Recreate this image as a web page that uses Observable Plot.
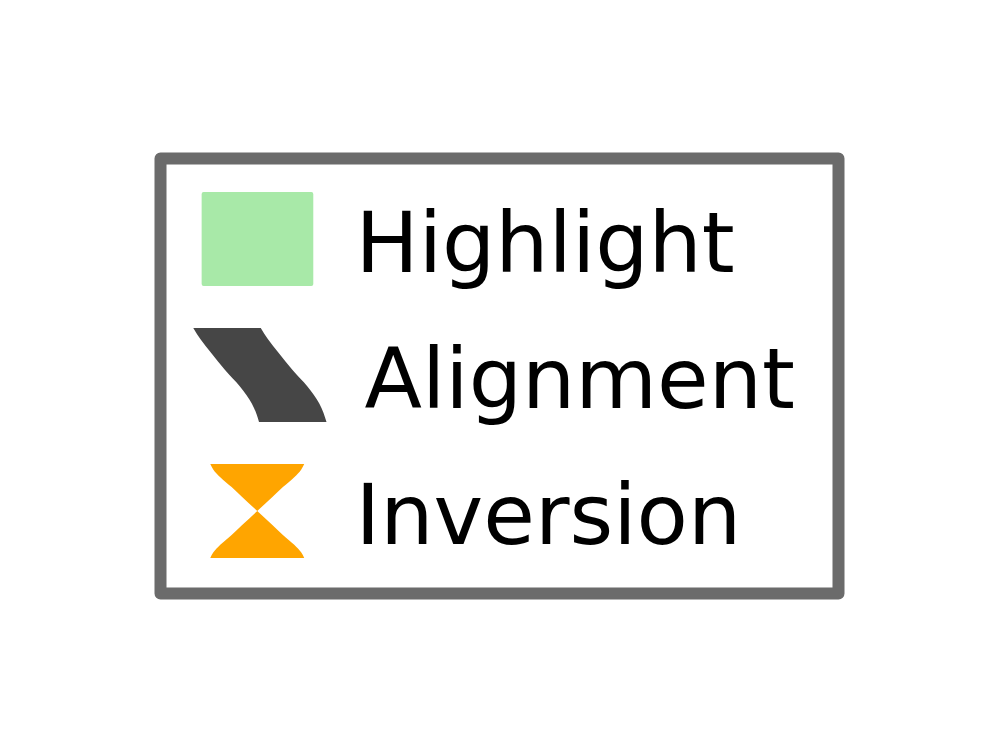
<!DOCTYPE html>
<html>
<head>
<meta charset="utf-8">
<script src="https://cdn.jsdelivr.net/npm/d3@7"></script>
<script src="https://cdn.jsdelivr.net/npm/@observablehq/plot@0.6"></script>
<style>
  body { margin: 0; background: white; }
</style>
</head>
<body>
<div id="chart"></div>
<script>
// legend entries
const items = ["Highlight", "Alignment", "Inversion"];
const colors = ["#a8e9a8", "#464646", "#ffa500"];

// layout in pixels
const W = 997, Ht = 752;
const box = {left: 160, right: 838, top: 158, bottom: 593};
const glyphX0 = 193, glyphW = 135;   // glyph column: x unit = 135px
const row0 = 239, rowStep = 136;     // y unit = one legend row
const half = 47 / rowStep;           // glyph half height in row units

// glyph shapes, in glyph units (u across, v from -1 top to 1 bottom)
const alignS = [[-1, 0], [-0.76, 0.11], [-0.474, 0.27], [-0.114, 0.48], [0.244, 0.71], [0.604, 0.89], [1, 1]];
const hourglass = [[0, 0], [0.3, 0.112], [0.51, 0.19], [0.72, 0.274], [0.88, 0.325], [1, 0.348]];

const rowOf = name => items.indexOf(name);

const highlightRect = [{name: "Highlight", x1: 0.064, x2: 0.891, y1: rowOf("Highlight") - half, y2: rowOf("Highlight") + half}];

const alignPts = alignS.map(([v, s]) => ({
  name: "Alignment",
  y: rowOf("Alignment") + v * half,
  x1: 0.002 + s * 0.487,
  x2: 0.502 + s * 0.487
}));

const invPts = [];
for (const side of [-1, 1]) {
  for (const [v, w] of hourglass) {
    invPts.push({
      name: "Inversion",
      part: side,
      y: rowOf("Inversion") + side * v * half,
      x1: 0.476 - w,
      x2: 0.476 + w
    });
  }
}

// the Alignment label sits a little further right, as in the original
const labelX = d => (355 - glyphX0 + (d === "Alignment" ? 9 : 0)) / glyphW;

const chart = Plot.plot({
  width: W,
  height: Ht,
  marginLeft: box.left,
  marginRight: W - box.right,
  marginTop: box.top,
  marginBottom: Ht - box.bottom,
  x: {axis: null, domain: [(box.left - glyphX0) / glyphW, (box.right - glyphX0) / glyphW]},
  y: {axis: null, domain: [(box.bottom - row0) / rowStep, (box.top - row0) / rowStep]},
  color: {domain: items, range: colors},
  style: {background: "white", fontFamily: "'DejaVu Sans', sans-serif"},
  marks: [
    Plot.frame({stroke: "#6b6b6b", strokeWidth: 12, strokeLinejoin: "round"}),
    Plot.rect(highlightRect, {x1: "x1", x2: "x2", y1: "y1", y2: "y2", fill: "name", rx: 2}),
    Plot.areaX(alignPts, {y: "y", x1: "x1", x2: "x2", fill: "name", curve: "monotone-y"}),
    Plot.areaX(invPts, {y: "y", x1: "x1", x2: "x2", z: "part", fill: "name", curve: "monotone-y"}),
    Plot.text(items, {
      x: labelX,
      y: (d, i) => i,
      text: d => d,
      textAnchor: "start",
      fontSize: 84,
      dy: 6,
      fill: "black"
    })
  ]
});

d3.select("#chart").append(() => chart);
</script>
</body>
</html>
